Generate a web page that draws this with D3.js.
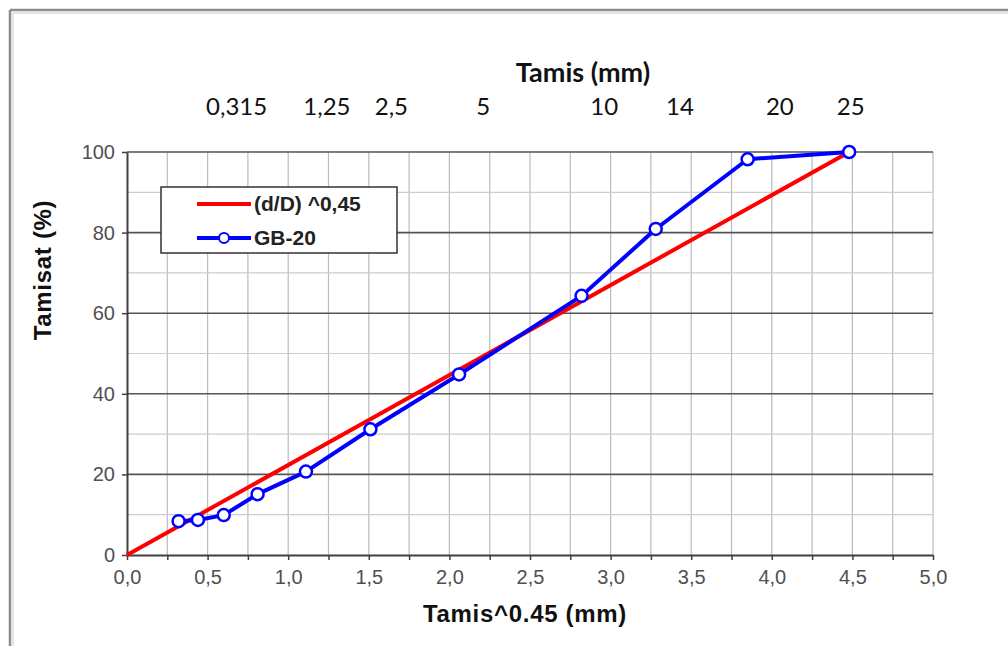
<!DOCTYPE html>
<html>
<head>
<meta charset="utf-8">
<script src="https://cdn.jsdelivr.net/npm/d3@7/dist/d3.min.js"></script>
<style>
  html, body { margin: 0; padding: 0; background: #fff; }
  svg { display: block; }
</style>
</head>
<body>
<svg id="chart" width="1008" height="646"></svg>
<script>
// Sieve openings raised to 0.45 (x) and cumulative percent passing (y)
const sieveX   = [0.32, 0.44, 0.60, 0.81, 1.11, 1.51, 2.06, 2.82, 3.28, 3.85, 4.48];
const passing  = [8.4, 8.7, 9.9, 15.1, 20.7, 31.2, 44.8, 64.3, 80.9, 98.2, 100];

// Fuller reference curve (d/D)^0.45 — straight on this transformed axis
const fullerX = [0, 4.48];
const fullerY = [0, 100];

// Sieve size labels along the top, and where they sit on the transformed axis
const topLabels = ["0,315", "1,25", "2,5", "5", "10", "14", "20", "25"];
const topLabelX = [0.68, 1.24, 1.64, 2.21, 2.96, 3.43, 4.05, 4.49];

const xTicks      = d3.range(0, 5.01, 0.5);
const xMinorTicks = d3.range(0, 5.01, 0.25);
const yTicks      = [0, 20, 40, 60, 80, 100];
const yMinorTicks = [10, 30, 50, 70, 90];

const seriesNames = ["(d/D) ^0,45", "GB-20"];

(function draw() {
  const svg = d3.select("#chart");
  const W = 1008, H = 646;
  const pLeft = 127, pRight = 933, pTop = 152, pBottom = 555;

  const x = d3.scaleLinear().domain([0, 5]).range([pLeft, pRight]);
  const y = d3.scaleLinear().domain([0, 100]).range([pBottom, pTop]);

  // Outer chart frame
  svg.append("line").attr("x1", 10).attr("y1", 10).attr("x2", W).attr("y2", 10)
    .attr("stroke", "#8c8c8c").attr("stroke-width", 2.5);
  svg.append("line").attr("x1", 10).attr("y1", 10).attr("x2", 10).attr("y2", H)
    .attr("stroke", "#8c8c8c").attr("stroke-width", 2.5);
  svg.append("line").attr("x1", 13).attr("y1", 13).attr("x2", W).attr("y2", 13)
    .attr("stroke", "#dcdcdc").attr("stroke-width", 1.5);
  svg.append("line").attr("x1", 13).attr("y1", 13).attr("x2", 13).attr("y2", H)
    .attr("stroke", "#dcdcdc").attr("stroke-width", 1.5);

  // Grid
  const grid = svg.append("g");
  grid.selectAll(".vgrid").data(xMinorTicks.filter(d => d > 0)).join("line")
    .attr("x1", d => x(d)).attr("x2", d => x(d))
    .attr("y1", pTop).attr("y2", pBottom)
    .attr("stroke", "#bcbcbc").attr("stroke-width", 1.2);
  grid.selectAll(".hminor").data(yMinorTicks).join("line")
    .attr("x1", pLeft).attr("x2", pRight)
    .attr("y1", d => y(d)).attr("y2", d => y(d))
    .attr("stroke", "#cccccc").attr("stroke-width", 1.2);
  grid.selectAll(".hmajor").data(yTicks.filter(d => d > 0)).join("line")
    .attr("x1", pLeft).attr("x2", pRight)
    .attr("y1", d => y(d)).attr("y2", d => y(d))
    .attr("stroke", "#555").attr("stroke-width", 1.6);

  // Axes
  const fmtComma = d => d3.format(".1f")(d).replace(".", ",");
  const xAxis = d3.axisBottom(x).tickValues(xMinorTicks).tickSize(5).tickSizeOuter(0)
    .tickFormat(d => (Math.round(d * 100) % 50 === 0 ? fmtComma(d) : ""));
  const gx = svg.append("g").attr("transform", `translate(0,${pBottom})`).call(xAxis);
  gx.select(".domain").attr("stroke", "#404040").attr("stroke-width", 2);
  gx.selectAll(".tick line").attr("stroke", "#404040").attr("stroke-width", 1.5);
  gx.selectAll(".tick text").attr("fill", "#505050").attr("font-size", 20)
    .attr("font-family", "'Liberation Sans', Arial, sans-serif").attr("dy", "1.05em");

  const yAxis = d3.axisLeft(y).tickValues(yTicks).tickSize(5).tickSizeOuter(0);
  const gy = svg.append("g").attr("transform", `translate(${pLeft},0)`).call(yAxis);
  gy.select(".domain").attr("stroke", "#404040").attr("stroke-width", 2);
  gy.selectAll(".tick line").attr("stroke", "#404040").attr("stroke-width", 1.5);
  gy.selectAll(".tick text").attr("fill", "#505050").attr("font-size", 20)
    .attr("font-family", "'Liberation Sans', Arial, sans-serif").attr("x", -12);

  // Series
  const line = d3.line().x(d => x(d[0])).y(d => y(d[1]));
  const fullerPts = fullerX.map((v, i) => [v, fullerY[i]]);
  const gbPts = sieveX.map((v, i) => [v, passing[i]]);

  svg.append("path").datum(fullerPts).attr("d", line)
    .attr("fill", "none").attr("stroke", "#ff0000").attr("stroke-width", 4);
  svg.append("path").datum(gbPts).attr("d", line)
    .attr("fill", "none").attr("stroke", "#0000ff").attr("stroke-width", 4)
    .attr("stroke-linejoin", "round");
  svg.selectAll(".pt").data(gbPts).join("circle")
    .attr("cx", d => x(d[0])).attr("cy", d => y(d[1])).attr("r", 6)
    .attr("fill", "#fff").attr("stroke", "#0000ff").attr("stroke-width", 2.5);

  // Titles
  svg.append("text").attr("x", 583).attr("y", 82).attr("text-anchor", "middle")
    .attr("font-family", "Lato, 'Open Sans', sans-serif").attr("font-weight", "bold")
    .attr("font-size", 27).attr("fill", "#111").text("Tamis (mm)");
  svg.selectAll(".toplab").data(topLabels).join("text")
    .attr("x", (d, i) => x(topLabelX[i])).attr("y", 115).attr("text-anchor", "middle")
    .attr("font-family", "Lato, 'Open Sans', sans-serif").attr("font-size", 24)
    .attr("fill", "#111").text(d => d);

  svg.append("text").attr("x", 525).attr("y", 622).attr("text-anchor", "middle")
    .attr("font-family", "'Liberation Sans', Arial, sans-serif").attr("font-weight", "bold")
    .attr("font-size", 24).attr("letter-spacing", 0.7).attr("fill", "#111")
    .text("Tamis^0.45 (mm)");
  svg.append("text").attr("transform", "translate(51,270) rotate(-90)")
    .attr("text-anchor", "middle")
    .attr("font-family", "'Liberation Sans', Arial, sans-serif").attr("font-weight", "bold")
    .attr("font-size", 24).attr("letter-spacing", 0.7).attr("fill", "#111")
    .text("Tamisat (%)");

  // Legend
  const lg = svg.append("g");
  lg.append("rect").attr("x", 161).attr("y", 187).attr("width", 236).attr("height", 66)
    .attr("fill", "#fff").attr("stroke", "#333").attr("stroke-width", 1.5);
  const legendColors = ["#ff0000", "#0000ff"];
  seriesNames.forEach((name, i) => {
    const ly = 204 + i * 34;
    lg.append("line").attr("x1", 197).attr("x2", 251).attr("y1", ly).attr("y2", ly)
      .attr("stroke", legendColors[i]).attr("stroke-width", 4);
    if (i === 1) {
      lg.append("circle").attr("cx", 224).attr("cy", ly).attr("r", 5)
        .attr("fill", "#fff").attr("stroke", "#0000ff").attr("stroke-width", 2);
    }
    lg.append("text").attr("x", 254).attr("y", ly + 7)
      .attr("font-family", "'Liberation Sans', Arial, sans-serif").attr("font-weight", "bold")
      .attr("font-size", 21).attr("fill", "#222").text(name);
  });
})();
</script>
</body>
</html>
